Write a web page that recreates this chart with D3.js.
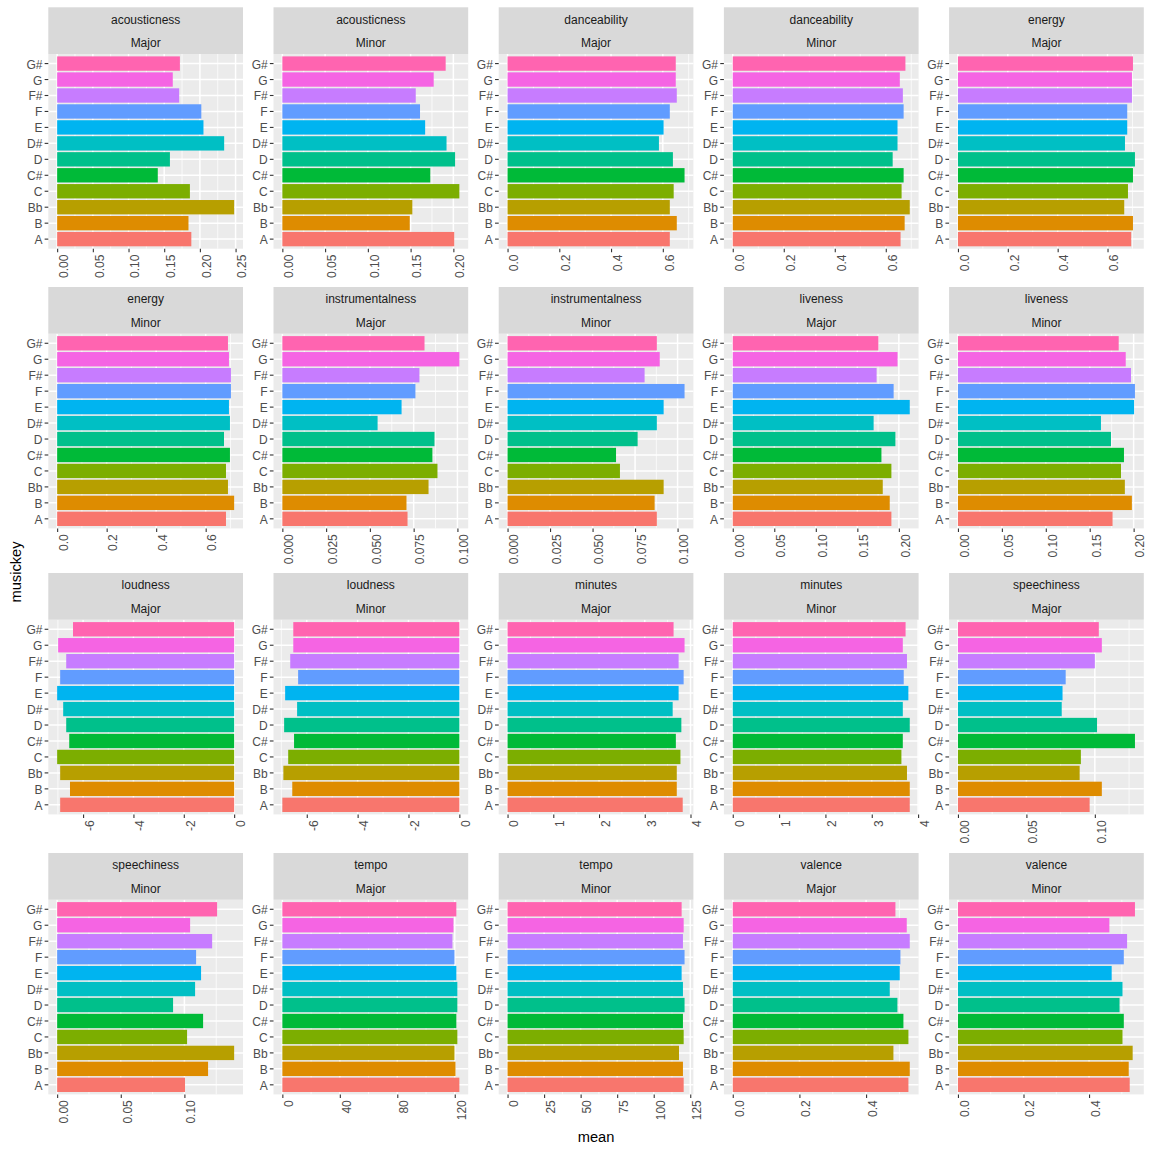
<!DOCTYPE html>
<html><head><meta charset="utf-8">
<script src="https://cdn.jsdelivr.net/npm/d3@7"></script>
<style>
body{margin:0;background:#fff}
svg{display:block}
text{font-family:"Liberation Sans",Arial,Helvetica,sans-serif}
</style>
</head><body>
<svg id="chart" width="1152" height="1152"></svg>
<script>
// ---------- DATA ----------
const keys = ["A","B","Bb","C","C#","D","D#","E","F","F#","G","G#"];
const keyColors = ["#F8766D","#DE8C00","#B79F00","#7CAE00","#00BA38","#00C08B","#00BFC4","#00B4F0","#619CFF","#C77CFF","#F564E3","#FF64B0"];
const variables = ["acousticness","danceability","energy","instrumentalness","liveness","loudness","minutes","speechiness","tempo","valence"];
const modes = ["Major","Minor"];

// values in key order A, B, Bb, C, C#, D, D#, E, F, F#, G, G#
const acousticnessMajor = [0.188,0.184,0.248,0.186,0.141,0.158,0.234,0.205,0.202,0.171,0.162,0.172];
const acousticnessMinor = [0.201,0.149,0.152,0.207,0.173,0.202,0.192,0.167,0.161,0.156,0.177,0.191];
const danceabilityMajor = [0.627,0.654,0.627,0.642,0.684,0.639,0.585,0.603,0.627,0.654,0.650,0.650];
const danceabilityMinor = [0.658,0.674,0.694,0.662,0.670,0.627,0.646,0.646,0.670,0.667,0.655,0.677];
const energyMajor = [0.695,0.702,0.667,0.682,0.702,0.710,0.670,0.679,0.679,0.698,0.698,0.702];
const energyMinor = [0.682,0.715,0.690,0.682,0.698,0.674,0.698,0.694,0.702,0.702,0.694,0.690];
const instrumentalnessMajor = [0.0715,0.0709,0.0835,0.0886,0.0857,0.0869,0.0544,0.0681,0.0760,0.0783,0.1011,0.0812];
const instrumentalnessMinor = [0.0878,0.0865,0.0918,0.0661,0.0638,0.0765,0.0878,0.0918,0.1041,0.0806,0.0895,0.0878];
const livenessMajor = [0.191,0.189,0.1806,0.191,0.179,0.1958,0.1696,0.2131,0.1937,0.1732,0.1984,0.1753];
const livenessMinor = [0.176,0.198,0.190,0.1856,0.189,0.1742,0.1628,0.2005,0.2015,0.197,0.191,0.183];
const loudnessMajor = [-6.91,-6.52,-6.91,-7.03,-6.55,-6.67,-6.79,-7.03,-6.91,-6.67,-6.99,-6.40];
const loudnessMinor = [-6.96,-6.57,-6.92,-6.73,-6.50,-6.89,-6.38,-6.85,-6.34,-6.65,-6.53,-6.53];
const minutesMajor = [3.83,3.70,3.70,3.78,3.68,3.80,3.61,3.74,3.85,3.74,3.87,3.63];
const minutesMinor = [3.82,3.82,3.76,3.64,3.67,3.82,3.67,3.79,3.69,3.76,3.67,3.73];
const speechinessMajor = [0.0962,0.1051,0.0889,0.0898,0.1293,0.1016,0.0758,0.0764,0.0787,0.1000,0.1051,0.1029];
const speechinessMinor = [0.1005,0.1186,0.1391,0.1021,0.1147,0.0911,0.1084,0.1131,0.1092,0.1218,0.1045,0.1257];
const tempoMajor = [123.2,120.5,119.8,121.8,121.1,121.8,121.8,121.1,119.8,118.4,119.1,121.1];
const tempoMinor = [120.5,120.0,117.3,120.5,120.0,121.1,120.0,119.1,121.1,120.0,120.5,119.1];
const valenceMajor = [0.527,0.531,0.482,0.527,0.512,0.494,0.471,0.501,0.503,0.531,0.522,0.488];
const valenceMinor = [0.524,0.521,0.533,0.502,0.506,0.493,0.502,0.469,0.506,0.516,0.462,0.540];

// x tick values and labels per panel
const ticksAcousticnessMajor = [0,0.05,0.10,0.15,0.20,0.25];
const labelsAcousticnessMajor = ["0.00","0.05","0.10","0.15","0.20","0.25"];
const ticksAcousticnessMinor = [0,0.05,0.10,0.15,0.20];
const labelsAcousticnessMinor = ["0.00","0.05","0.10","0.15","0.20"];
const ticksTenths = [0,0.2,0.4,0.6];
const labelsTenths = ["0.0","0.2","0.4","0.6"];
const ticksInstrumentalness = [0,0.025,0.05,0.075,0.10];
const labelsInstrumentalness = ["0.000","0.025","0.050","0.075","0.100"];
const ticksLiveness = [0,0.05,0.10,0.15,0.20];
const labelsLiveness = ["0.00","0.05","0.10","0.15","0.20"];
const ticksLoudness = [-6,-4,-2,0];
const labelsLoudness = ["-6","-4","-2","0"];
const ticksMinutes = [0,1,2,3,4];
const labelsMinutes = ["0","1","2","3","4"];
const ticksSpeechiness = [0,0.05,0.10];
const labelsSpeechiness = ["0.00","0.05","0.10"];
const ticksTempoMajor = [0,40,80,120];
const labelsTempoMajor = ["0","40","80","120"];
const ticksTempoMinor = [0,25,50,75,100,125];
const labelsTempoMinor = ["0","25","50","75","100","125"];
const ticksValence = [0,0.2,0.4];
const labelsValence = ["0.0","0.2","0.4"];

const yTitle = "musickey";
const xTitle = "mean";

// table built from the arrays above
const panels = [
  {v:"acousticness",m:"Major",vals:acousticnessMajor,t:ticksAcousticnessMajor,l:labelsAcousticnessMajor},
  {v:"acousticness",m:"Minor",vals:acousticnessMinor,t:ticksAcousticnessMinor,l:labelsAcousticnessMinor},
  {v:"danceability",m:"Major",vals:danceabilityMajor,t:ticksTenths,l:labelsTenths},
  {v:"danceability",m:"Minor",vals:danceabilityMinor,t:ticksTenths,l:labelsTenths},
  {v:"energy",m:"Major",vals:energyMajor,t:ticksTenths,l:labelsTenths},
  {v:"energy",m:"Minor",vals:energyMinor,t:ticksTenths,l:labelsTenths},
  {v:"instrumentalness",m:"Major",vals:instrumentalnessMajor,t:ticksInstrumentalness,l:labelsInstrumentalness},
  {v:"instrumentalness",m:"Minor",vals:instrumentalnessMinor,t:ticksInstrumentalness,l:labelsInstrumentalness},
  {v:"liveness",m:"Major",vals:livenessMajor,t:ticksLiveness,l:labelsLiveness},
  {v:"liveness",m:"Minor",vals:livenessMinor,t:ticksLiveness,l:labelsLiveness},
  {v:"loudness",m:"Major",vals:loudnessMajor,t:ticksLoudness,l:labelsLoudness},
  {v:"loudness",m:"Minor",vals:loudnessMinor,t:ticksLoudness,l:labelsLoudness},
  {v:"minutes",m:"Major",vals:minutesMajor,t:ticksMinutes,l:labelsMinutes},
  {v:"minutes",m:"Minor",vals:minutesMinor,t:ticksMinutes,l:labelsMinutes},
  {v:"speechiness",m:"Major",vals:speechinessMajor,t:ticksSpeechiness,l:labelsSpeechiness},
  {v:"speechiness",m:"Minor",vals:speechinessMinor,t:ticksSpeechiness,l:labelsSpeechiness},
  {v:"tempo",m:"Major",vals:tempoMajor,t:ticksTempoMajor,l:labelsTempoMajor},
  {v:"tempo",m:"Minor",vals:tempoMinor,t:ticksTempoMinor,l:labelsTempoMinor},
  {v:"valence",m:"Major",vals:valenceMajor,t:ticksValence,l:labelsValence},
  {v:"valence",m:"Minor",vals:valenceMinor,t:ticksValence,l:labelsValence}
];

// ---------- LAYOUT ----------
const svg = d3.select("#chart");
const ncol = 5;
const panelLeft0 = 48.3, colStep = 225.2, panelW = 194.7, panelH = 194.7, stripH = 46.7;
const rowStripTops = [7.3, 287, 573, 853];
const tickLen = 3.67, tickPad = 2.2;
const axisTextColor = "#4D4D4D", tickColor = "#333333";
const fontSize = 12;

panels.forEach((p, idx) => {
  const col = idx % ncol, row = Math.floor(idx / ncol);
  const px = panelLeft0 + col * colStep;
  const stripTop = rowStripTops[row];
  const py = stripTop + stripH;

  const lo = Math.min(0, d3.min(p.vals)), hi = Math.max(0, d3.max(p.vals));
  const pad = (hi - lo) * 0.05;
  const x = d3.scaleLinear().domain([lo - pad, hi + pad]).range([0, panelW]);
  const y = d3.scaleBand().domain(keys).range([panelH, 0]).paddingInner(0.1).paddingOuter(0.15);

  const g = svg.append("g").attr("transform", `translate(${px},${py})`);
  g.append("rect").attr("width", panelW).attr("height", panelH).attr("fill", "#EBEBEB");

  // minor grid
  const dom = x.domain();
  const t = p.t, step = t[1] - t[0];
  const minors = [];
  for (let i = -1; i < t.length; i++) {
    const mv = (i < 0 ? t[0] - step / 2 : t[i] + step / 2);
    if (mv >= dom[0] && mv <= dom[1]) minors.push(mv);
  }
  g.selectAll(".minor").data(minors).join("line")
    .attr("x1", d => x(d)).attr("x2", d => x(d)).attr("y1", 0).attr("y2", panelH)
    .attr("stroke", "#fff").attr("stroke-width", 0.75);
  g.selectAll(".major").data(t).join("line")
    .attr("x1", d => x(d)).attr("x2", d => x(d)).attr("y1", 0).attr("y2", panelH)
    .attr("stroke", "#fff").attr("stroke-width", 1.5);
  g.selectAll(".hmajor").data(keys).join("line")
    .attr("x1", 0).attr("x2", panelW)
    .attr("y1", d => y(d) + y.bandwidth() / 2).attr("y2", d => y(d) + y.bandwidth() / 2)
    .attr("stroke", "#fff").attr("stroke-width", 1.5);

  // bars
  g.selectAll(".bar").data(keys).join("rect")
    .attr("x", (d, i) => Math.min(x(0), x(p.vals[i])))
    .attr("width", (d, i) => Math.abs(x(p.vals[i]) - x(0)))
    .attr("y", d => y(d))
    .attr("height", y.bandwidth())
    .attr("fill", (d, i) => keyColors[i]);

  // strips
  const s = svg.append("g").attr("transform", `translate(${px},${stripTop})`);
  s.append("rect").attr("width", panelW).attr("height", stripH).attr("fill", "#D9D9D9");
  [p.v, p.m].forEach((txt, k) => {
    s.append("text").attr("x", panelW / 2).attr("y", stripH / 4 + k * stripH / 2 + 4.6)
      .attr("text-anchor", "middle").attr("font-size", fontSize).attr("fill", "#1A1A1A").text(txt);
  });

  // y axis
  const ya = g.append("g").call(d3.axisLeft(y).tickSize(tickLen).tickPadding(tickPad));
  ya.select(".domain").remove();
  ya.selectAll(".tick line").attr("stroke", tickColor).attr("stroke-width", 1.1);
  ya.selectAll(".tick text").attr("fill", axisTextColor).attr("font-size", fontSize)
    .attr("font-family", null).attr("dy", null).attr("y", 5);

  // x axis
  const xa = g.append("g").attr("transform", `translate(0,${panelH})`)
    .call(d3.axisBottom(x).tickValues(t).tickFormat((d, i) => p.l[i]).tickSize(tickLen));
  xa.select(".domain").remove();
  xa.selectAll(".tick line").attr("stroke", tickColor).attr("stroke-width", 1.1);
  xa.selectAll(".tick text").attr("fill", axisTextColor).attr("font-size", fontSize)
    .attr("font-family", null)
    .attr("transform", "rotate(-90)")
    .attr("text-anchor", "end")
    .attr("x", -(tickLen + tickPad)).attr("y", 10.3).attr("dy", null);
});

// axis titles
svg.append("text").attr("transform", "translate(21,572) rotate(-90)")
  .attr("text-anchor", "middle").attr("font-size", 14.67).attr("fill", "#000").text(yTitle);
svg.append("text").attr("x", panelLeft0 + (4 * colStep + panelW) / 2).attr("y", 1142)
  .attr("text-anchor", "middle").attr("font-size", 14.67).attr("fill", "#000").text(xTitle);
</script>
</body></html>
